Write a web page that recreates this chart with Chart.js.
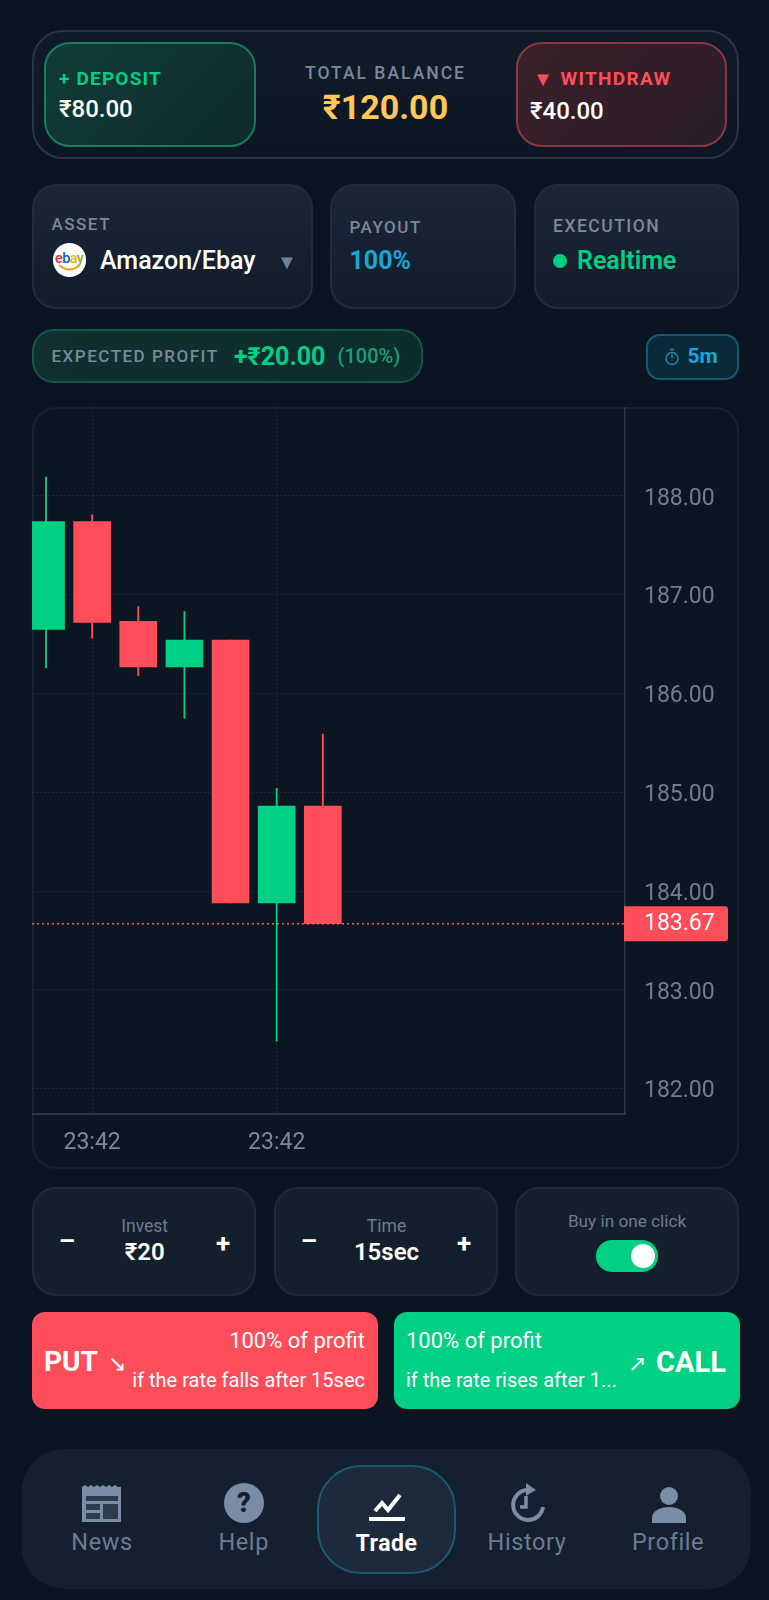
<!DOCTYPE html>
<html><head><meta charset="utf-8">
<script src="https://cdn.jsdelivr.net/npm/chart.js@4"></script>
<style>
html,body{margin:0;padding:0;background:#0a1521;width:769px;height:1600px;overflow:hidden;font-family:Roboto,sans-serif}
.b{position:absolute;box-sizing:border-box}
.t{position:absolute;white-space:nowrap;transform:translateY(-50%);line-height:1}
.c{transform:translate(-50%,-50%)}
.r{transform:translate(-100%,-50%)}
svg{position:absolute}
</style></head><body>
<div id="app"></div>
<div class="b" style="left:32px;top:407px;width:707px;height:762px;border:2px solid #172231;border-radius:24px;background:#0b1622"></div>
<canvas id="chart" width="707" height="762" style="position:absolute;left:32px;top:407px;width:707px;height:762px"></canvas>
<div id="top"></div>
<script>
const candleIndex=[0,1,2,3,4,5,6];
const opens=[186.65,187.74,186.73,186.27,186.54,183.88,184.86];
const closes=[187.74,186.72,186.27,186.54,183.88,184.86,183.67];
const highs=[188.19,187.81,186.88,186.83,186.54,185.04,185.59];
const lows=[186.26,186.56,186.18,185.75,183.88,182.48,183.67];
const yTickValues=[182,183,184,185,186,187,188];
const xTickPositions=[1,5];
const xTickLabels=['23:42','23:42'];
const lastPrice=183.67;
const xMin=-0.304,xMax=12.55,yMin=181.744,yMax=188.90;
const UP='#00d084',DOWN='#ff4d5a';
const colors=opens.map((o,i)=>closes[i]>=o?UP:DOWN);

const priceTag={id:'priceTag',afterDraw(c){
  const s=c.scales.y,ctx=c.ctx,y=s.getPixelForValue(lastPrice),x=s.left-1;
  ctx.save();ctx.fillStyle=DOWN;ctx.beginPath();ctx.roundRect(x,y-17.5,104,35,[0,3,3,0]);ctx.fill();
  ctx.fillStyle='#fff';ctx.font='23px Roboto';ctx.textBaseline='middle';ctx.textAlign='left';
  ctx.fillText(lastPrice.toFixed(2),s.left+19,y+1);ctx.restore();
}};
new Chart(document.getElementById('chart'),{
  data:{datasets:[
    {type:'line',label:'Last',data:[{x:xMin,y:lastPrice},{x:xMax,y:lastPrice}],borderColor:'#ff5a67',borderWidth:1.5,borderDash:[2,3],pointRadius:0,order:0},
    {type:'bar',label:'Body',data:candleIndex.map((x,i)=>({x,y:[opens[i],closes[i]]})),backgroundColor:colors,barThickness:37,grouped:false,order:1},
    {type:'bar',label:'Wick',data:candleIndex.map((x,i)=>({x,y:[lows[i],highs[i]]})),backgroundColor:colors,barThickness:1.2,grouped:false,order:2}
  ]},
  options:{responsive:false,animation:false,devicePixelRatio:1,layout:{padding:0},
    plugins:{legend:{display:false},tooltip:{enabled:false}},
    scales:{
      x:{type:'linear',offset:false,min:xMin,max:xMax,
        afterBuildTicks(a){a.ticks=xTickPositions.map(v=>({value:v}))},
        afterFit(a){a.height=55;a.paddingLeft=0;a.paddingRight=0},
        ticks:{autoSkip:false,maxRotation:0,padding:15,color:'#7c899b',font:{size:23,family:'Roboto'},callback:(v)=>xTickLabels[xTickPositions.indexOf(v)]},
        grid:{offset:false,color:'rgba(150,170,190,.13)',drawTicks:false},
        border:{display:true,color:'#28384a',width:2,dash:[2,2]}},
      y:{type:'linear',position:'right',min:yMin,max:yMax,
        afterBuildTicks(a){a.ticks=yTickValues.map(v=>({value:v}))},
        afterFit(a){a.width=114;a.paddingTop=0;a.paddingBottom=0},
        ticks:{autoSkip:false,padding:19,labelOffset:3,color:'#6f7d8f',font:{size:23,family:'Roboto'},callback:v=>Number(v).toFixed(2)},
        grid:{color:'rgba(150,170,190,.13)',drawTicks:false},
        border:{display:true,color:'#28384a',width:1.5,dash:[2,2]}}
    }},
  plugins:[priceTag]
});

const app=document.getElementById('app'),top_=document.getElementById('top');
function box(x0,y0,x1,y1,r,bg,bd,w){const d=document.createElement('div');d.className='b';
  d.style.cssText=`left:${x0}px;top:${y0}px;width:${x1-x0}px;height:${y1-y0}px;border-radius:${r}px;background:${bg};`+(bd?`border:${w||2}px solid ${bd};`:'');top_.appendChild(d);return d}
function T(s,x,y,size,color,o={}){const d=document.createElement('div');d.className='t'+(o.a?' '+o.a:'');d.textContent=s;
  d.style.cssText=`left:${x}px;top:${y}px;font-size:${size}px;color:${color};font-weight:${o.w||400};letter-spacing:${o.ls||0}px;`;top_.appendChild(d);return d}
const G='#7b889a',GR='#00d084',RD='#ff4d5a',BL='#1ba6d8',W='#fff';
// header
box(32,29.5,739,159,31,'linear-gradient(180deg,#101b29,#0d1724)','#293545');
box(44,41.5,255.5,147,26,'linear-gradient(135deg,#0f3d37,#0f2a2f)','#1a7a62');
box(515.5,41.5,727,147,26,'linear-gradient(135deg,#3a2029,#2a1d29)','#8c3543');
T('+ DEPOSIT',59,78,19,GR,{w:700,ls:1.2});T('₹80.00',59,109,24,W,{w:500});
T('TOTAL BALANCE',385.5,73.5,17.5,G,{ls:2,a:'c',w:500});T('₹120.00',385.5,107,34,'#ffc857',{w:700,a:'c'});
T('▼',533,79,20,RD);T('WITHDRAW',560.5,78,19,RD,{w:700,ls:1.3});T('₹40.00',530,111,24,W,{w:500});
// info row
const cardBg='linear-gradient(180deg,#1b2739,#121c2a)';
box(32,183.5,312.5,308.5,24,cardBg,'#222d3c');box(329.5,183.5,516,308.5,24,cardBg,'#222d3c');box(533.5,183.5,739,308.5,24,cardBg,'#222d3c');
T('ASSET',51.5,224,17,G,{ls:1.5,w:500});T('Amazon/Ebay',100,260,25,W,{w:500});T('▼',277,262,20,'#748296');
T('PAYOUT',349.5,227,17,G,{ls:1.5,w:500});T('100%',349.5,260,25,BL,{w:700});
T('EXECUTION',553,227,17.5,G,{ls:1.5,w:500});T('Realtime',577,260,25,GR,{w:600});
box(553,254,566.5,267.5,7,GR);
// logo
box(52.5,243,86,277,17,'#fff');
const lg=T('',55,259,14.5,'#e53238',{w:500,ls:-.6});lg.innerHTML='<span style="color:#e53238">e</span><span style="color:#0064d2">b</span><span style="color:#f5af02">a</span><span style="color:#86b817">y</span>';
top_.insertAdjacentHTML('beforeend','<svg style="left:52px;top:243px" width="35" height="34"><path d="M7 22 Q17 31 28 22" fill="none" stroke="#f79a1e" stroke-width="2"/></svg>');
// profit row
box(32,329,423,382.5,22,'linear-gradient(90deg,#10302f,#0d2c2c)','#15574b');
T('EXPECTED PROFIT',51.5,356,17,G,{ls:1.5,w:500});T('+₹20.00',234,356,25,GR,{w:700});T('(100%)',337.5,356,20,'#1a9f78',{w:500});
box(646,333.5,739,379.5,14,'#0a2a39','#135a73');
top_.insertAdjacentHTML('beforeend','<svg style="left:664px;top:348px" width="16" height="18" fill="none" stroke="#1a8db5" stroke-width="1.4"><circle cx="8" cy="10.5" r="6"/><path d="M8 10.5V6.5M6 1.5h4"/></svg>');
T('5m',687.5,356,21,BL,{w:700});
// inputs
const inpBg='#141f2d';
box(32,1186.5,256,1295.5,24,inpBg,'#1f2a39');box(273.5,1186.5,497.5,1295.5,24,inpBg,'#1f2a39');box(515,1186.5,739,1295.5,24,inpBg,'#1f2a39');
T('Invest',144.7,1227,17.5,'#6e7c8e',{a:'c'});T('₹20',144.7,1252,24,W,{w:600,a:'c'});
T('–',67,1241,26,W,{w:700,a:'c'});T('+',223,1243,26,W,{w:700,a:'c'});
T('Time',386.5,1227,17.5,'#6e7c8e',{a:'c'});T('15sec',386.5,1252,24,W,{w:600,a:'c'});
T('–',309,1241,26,W,{w:700,a:'c'});T('+',464,1243,26,W,{w:700,a:'c'});
T('Buy in one click',627,1221.5,17.2,'#6e7c8e',{a:'c'});
box(595.5,1239.5,658,1271.5,16,GR);box(630.5,1243.5,654.5,1267.5,12,'#fff');
// trade buttons
box(31.5,1311.5,377.5,1409,13,RD);box(393.5,1311.5,739.5,1409,13,GR);
T('PUT',44,1362,28,W,{w:700});T('↘',108,1364,22,W,{w:500});
T('100% of profit',365,1341,22,W,{a:'r'});T('if the rate falls after 15sec',365,1380,20,W,{a:'r'});
T('100% of profit',406,1341,22,W);T('if the rate rises after 1...',406,1380,20,W);
T('↗',628,1364,22,W,{w:500});T('CALL',656,1362,29,W,{w:700});
// nav
box(20.5,1448.5,750.5,1589,44,'#142030');
box(316.5,1464.5,456,1573.5,44,'#1c2a3c','#1d5a70');
const NV='#6c7c92';
T('News',102,1543,23.5,NV,{ls:.6,a:'c'});T('Help',243.7,1543,23.5,NV,{ls:.6,a:'c'});T('Trade',386.5,1543,23,W,{w:700,ls:.6,a:'c'});T('History',527,1543,23.5,NV,{ls:.6,a:'c'});T('Profile',668,1543,23.5,NV,{ls:.6,a:'c'});
const IC='#7a8ca6';
top_.insertAdjacentHTML('beforeend',`
<svg style="left:82px;top:1485px" width="40" height="37"><path d="M0 2l3-2 3 2 3-2 3 2 3-2 3 2 3-2 3 2 3-2 3 2 3-2 3 2 3-0V37H0z" fill="${IC}"/><path d="M4 11h32v5H4zM4 19h14v6H4zM4 28h14v6H4zM21 19h15v15H21z" fill="#142030" opacity=".75"/></svg>
<svg style="left:224px;top:1483px" width="40" height="40"><circle cx="20" cy="20" r="20" fill="${IC}"/><text x="20" y="29" text-anchor="middle" font-family="Roboto" font-weight="900" font-size="27" fill="#142030">?</text></svg>
<svg style="left:369px;top:1493px" width="36" height="28" fill="none" stroke="#fff"><path d="M6 18L13 10l6 7L31 2" stroke-width="4"/><path d="M0 26h36" stroke-width="4"/></svg>
<svg style="left:510px;top:1480px" width="36" height="42" fill="none" stroke="${IC}" stroke-width="4"><path d="M17 10A15 15 0 1 0 33 27"/><path d="M16 3l10 7-10 6z" fill="${IC}" stroke="none"/><path d="M16 16v11h-6" stroke-width="3.5"/></svg>
<svg style="left:652px;top:1487px" width="34" height="36" fill="${IC}"><circle cx="17" cy="9" r="9"/><path d="M0 36V31C0 24 8 20 17 20S34 24 34 31V36z"/></svg>`);
</script>
</body></html>
